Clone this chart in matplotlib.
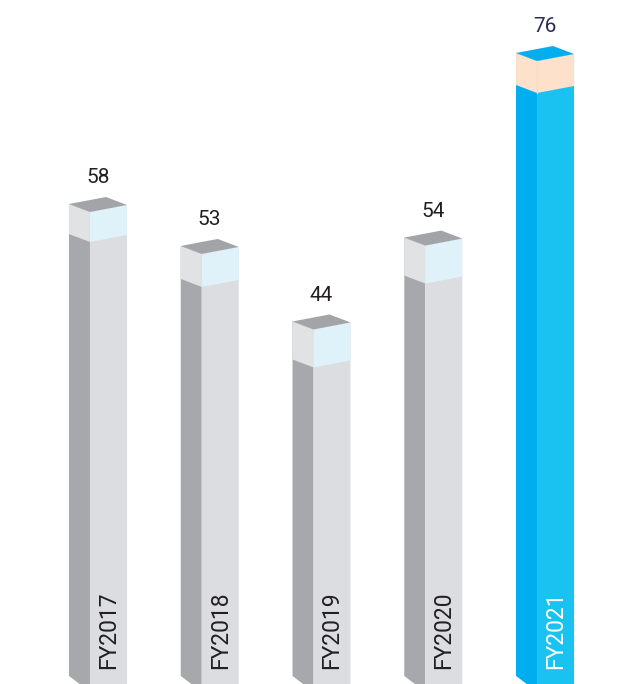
import matplotlib
matplotlib.use("Agg")
import matplotlib.pyplot as plt
from matplotlib.patches import Polygon

# ---- data ----
years = ["FY2017", "FY2018", "FY2019", "FY2020", "FY2021"]
values = [58, 53, 44, 54, 76]

# ---- style ----
plt.rcParams['font.family'] = ['Roboto', 'DejaVu Sans']
W, H = 626, 684
fig = plt.figure(figsize=(W / 100, H / 100), dpi=100)
ax = fig.add_axes([0, 0, 1, 1])
ax.set_xlim(-0.805, 4.796)
ax.set_ylim(1.74, 83.27)
ax.axis('off')

px_x = 111.75          # pixels per x unit
px_y = 8.39            # pixels per value unit
wl = 21 / px_x         # left face width
wr = 37 / px_x         # right face width
dl = 8 / px_y          # rise of left face top edge
dr = 7 / px_y          # rise of right face top edge
base = 0.8             # front bottom (below the figure edge)
base_l = 2.7           # left corner bottom of left face
band_px = [30, 33, 38, 38, 32]

grey = dict(left="#a7a8ab", right="#dcdde0", cap="#a3a4a7",
            band_l="#e1e2e4", band_r="#dff2fa", txt="#231f20", year="#231f20")
blue = dict(left="#00aeef", right="#1ac2f2", cap="#04adee",
            band_l="#fde1ca", band_r="#fde1ca", txt="#2b2a5c", year="#ffffff")

for i, (yr, v) in enumerate(zip(years, values)):
    c = blue if i == len(values) - 1 else grey
    b = band_px[i] / px_y
    # left face
    ax.add_patch(Polygon([(i - wl, base_l), (i, base), (i, v), (i - wl, v + dl)],
                         closed=True, fc=c["left"], ec='none'))
    # right face
    ax.add_patch(Polygon([(i, 0), (i + wr, 0), (i + wr, v + dr), (i, v)],
                         closed=True, fc=c["right"], ec='none'))
    # band on left face
    ax.add_patch(Polygon([(i - wl, v - b + dl), (i, v - b), (i, v), (i - wl, v + dl)],
                         closed=True, fc=c["band_l"], ec='none'))
    # band on right face
    ax.add_patch(Polygon([(i, v - b), (i + wr, v - b + dr), (i + wr, v + dr), (i, v)],
                         closed=True, fc=c["band_r"], ec='none'))
    if c is blue:
        ax.plot([i, i], [v - b, v], color="#c9ecf8", lw=0.8)
    # cap
    ax.add_patch(Polygon([(i, v), (i - wl, v + dl), (i - wl + wr, v + dl + dr), (i + wr, v + dr)],
                         closed=True, fc=c["cap"], ec='none'))
    # value label
    ax.text(i + 0.07, v + 2.95, str(v), ha='center', va='bottom',
            fontsize=15, color=c["txt"])
    # year label
    ax.text(i + 0.165, 3.5, yr, rotation=90, ha='center', va='bottom',
            fontsize=16.5, color=c["year"])

fig.savefig("out.png", dpi=100)
